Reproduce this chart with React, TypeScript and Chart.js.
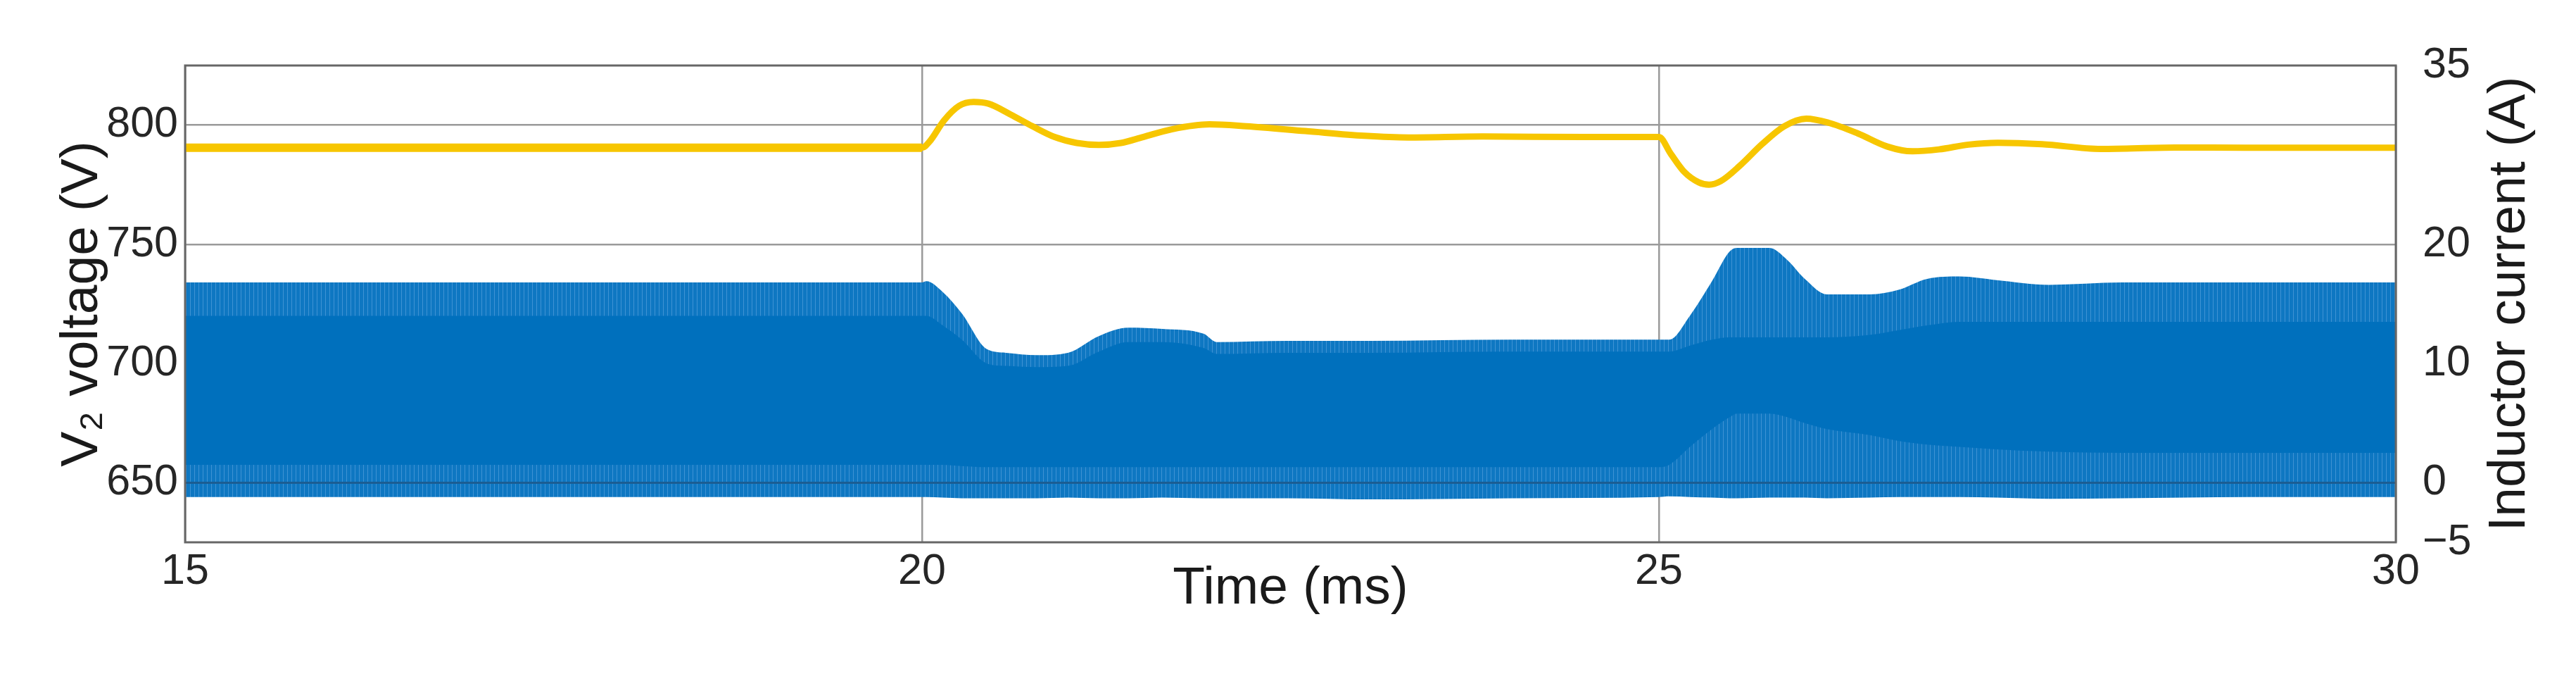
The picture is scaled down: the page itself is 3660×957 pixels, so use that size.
import React, { useEffect, useRef } from 'react';
import { Chart, registerables } from 'chart.js';

Chart.register(...registerables);

// ---------- data ----------
const timeTicks = [15, 20, 25, 30];
const voltageTicks = [650, 700, 750, 800];
const currentTicks = [-5, 0, 10, 20, 35];

// V2 voltage (V) – yellow trace
const voltageTime = [
  15, 20, 20.05, 20.15, 20.25, 20.35, 20.45, 20.6, 20.75, 20.9, 21.05, 21.2, 21.35, 21.5,
  21.7, 21.95, 22.2, 22.6, 23.0, 23.3, 23.8, 24.5, 25.0, 25.08, 25.17, 25.27, 25.34, 25.42,
  25.55, 25.7, 25.85, 26.0, 26.15, 26.35, 26.55, 26.72, 26.9, 27.1, 27.3, 27.6, 28.0, 28.5,
  29.0, 30,
];
const voltageValues = [
  790.5, 790.5, 793, 802, 808, 809.7, 809, 804.5, 799.5, 795, 792.5, 791.7, 792.5, 795,
  798.3, 800.3, 799.5, 797.5, 795.5, 794.8, 795.2, 795, 795, 788, 780.5, 776, 775, 776.5,
  783, 792, 799.5, 802.7, 801, 796.5, 791, 789, 789.8, 791.8, 792.6, 792, 790, 790.6,
  790.5, 790.5,
];

// Inductor current (A) – blue switching band, read as its envelope
const bandTime = [
  15, 20, 20.03, 20.14, 20.27, 20.44, 20.57, 20.78, 20.99, 21.2, 21.4, 21.63, 21.91, 22.0,
  22.48, 23.04, 24.0, 25.0, 25.07, 25.21, 25.36, 25.48, 25.53, 25.75, 25.87, 25.99, 26.14,
  26.43, 26.63, 26.82, 27.04, 27.29, 27.65, 28.14, 29.0, 30,
];
const bandUpper = [
  16.8, 16.8, 16.9, 16.0, 14.2, 11.2, 10.9, 10.7, 10.9, 12.3, 13.0, 12.9, 12.5, 11.8,
  11.9, 11.9, 12.0, 12.0, 12.0, 14.0, 16.9, 19.4, 19.7, 19.7, 18.7, 17.1, 15.8,
  15.8, 16.2, 17.1, 17.3, 17.0, 16.6, 16.8, 16.8, 16.8,
];
const bandLower = [
  -1.2, -1.2, -1.2, -1.25, -1.3, -1.3, -1.3, -1.3, -1.25, -1.3, -1.3, -1.25, -1.3, -1.3,
  -1.3, -1.4, -1.3, -1.2, -1.15, -1.2, -1.25, -1.3, -1.3, -1.25, -1.25, -1.25, -1.3,
  -1.25, -1.2, -1.2, -1.2, -1.25, -1.35, -1.3, -1.2, -1.2,
];
// densest (darkest) part of the band
const coreUpper = [
  14, 14, 14, 13.2, 12, 10, 9.8, 9.7, 9.8, 11, 11.8, 11.8, 11.3, 10.8,
  10.9, 10.9, 11, 11, 11, 11.5, 12, 12.2, 12.2, 12.2, 12.2, 12.2, 12.2,
  12.4, 12.8, 13.2, 13.5, 13.5, 13.5, 13.5, 13.5, 13.5,
];
const coreLower = [
  1.5, 1.5, 1.5, 1.5, 1.4, 1.3, 1.3, 1.3, 1.3, 1.3, 1.3, 1.3, 1.3, 1.3,
  1.3, 1.3, 1.3, 1.3, 1.5, 3, 4.5, 5.5, 5.8, 5.8, 5.5, 5, 4.5,
  4, 3.5, 3.2, 3, 2.8, 2.6, 2.5, 2.5, 2.5,
];
// dense clamp line at 0 A
const clampTime = [15, 30];
const clampValues = [0, 0];

const LEFT_TITLE = 'V\u2082 voltage (V)';
const RIGHT_TITLE = 'Inductor current (A)';
const X_TITLE = 'Time (ms)';

const FONT = '"Liberation Sans", Arial, Helvetica, sans-serif';
const TICK_COLOR = '#262626';
const TITLE_COLOR = '#1a1a1a';
const GRID_COLOR = '#9a9a9a';

const xy = (t: number[], v: number[]) => t.map((x, i) => ({ x, y: v[i] }));
const fmt = (v: number) => (v < 0 ? '\u2212' + Math.abs(v) : String(v));

export default function App() {
  const ref = useRef<HTMLCanvasElement | null>(null);

  useEffect(() => {
    const canvas = ref.current;
    if (!canvas) return;
    const ctx = canvas.getContext('2d')!;

    const pc = document.createElement('canvas');
    pc.width = 6;
    pc.height = 4;
    const p = pc.getContext('2d')!;
    p.fillStyle = '#0E77C2';
    p.fillRect(0, 0, 6, 4);
    p.fillStyle = '#3F93D4';
    p.fillRect(0, 0, 1, 4);
    const pattern = ctx.createPattern(pc, 'repeat');

    const framePlugin = {
      id: 'frame',
      afterDatasetsDraw(chart: any) {
        const { ctx: c, chartArea: a } = chart;
        c.save();
        c.strokeStyle = '#666666';
        c.lineWidth = 3;
        c.strokeRect(a.left, a.top, a.right - a.left, a.bottom - a.top);
        c.restore();
      },
      afterDraw(chart: any) {
        const { ctx: c, chartArea: a } = chart;
        const s = chart.scales.yR;
        c.save();
        c.translate(s.left + 162, (a.top + a.bottom) / 2);
        c.rotate(-Math.PI / 2);
        c.font = '75px ' + FONT;
        c.fillStyle = TITLE_COLOR;
        c.textAlign = 'center';
        c.textBaseline = 'middle';
        c.fillText(RIGHT_TITLE, 0, 0);
        c.restore();
      },
    };

    const noLine = 'rgba(0,0,0,0)';

    const chart = new Chart(ctx, {
      type: 'line',
      data: {
        datasets: [
          {
            label: 'V2 voltage',
            data: xy(voltageTime, voltageValues),
            yAxisID: 'y',
            borderColor: '#F7C600',
            borderWidth: 9,
            pointRadius: 0,
            cubicInterpolationMode: 'monotone',
            fill: false,
            order: 0,
            segment: {
              borderWidth: (c: any) => (c.p1.parsed.x <= 20 ? 12 : 9),
            },
          } as any,
          {
            label: 'clamp',
            data: xy(clampTime, clampValues),
            yAxisID: 'yR',
            borderColor: '#1b5d92',
            borderWidth: 3,
            pointRadius: 0,
            fill: false,
            order: 1,
          },
          {
            label: 'core upper',
            data: xy(bandTime, coreUpper),
            yAxisID: 'yR',
            borderColor: noLine,
            borderWidth: 0,
            pointRadius: 0,
            cubicInterpolationMode: 'monotone',
            fill: '+1',
            backgroundColor: '#0070BD',
            order: 2,
          },
          {
            label: 'core lower',
            data: xy(bandTime, coreLower),
            yAxisID: 'yR',
            borderColor: noLine,
            borderWidth: 0,
            pointRadius: 0,
            cubicInterpolationMode: 'monotone',
            fill: false,
            order: 2,
          },
          {
            label: 'Inductor current upper',
            data: xy(bandTime, bandUpper),
            yAxisID: 'yR',
            borderColor: noLine,
            borderWidth: 0,
            pointRadius: 0,
            cubicInterpolationMode: 'monotone',
            fill: '+1',
            backgroundColor: pattern as any,
            order: 3,
          },
          {
            label: 'Inductor current lower',
            data: xy(bandTime, bandLower),
            yAxisID: 'yR',
            borderColor: noLine,
            borderWidth: 0,
            pointRadius: 0,
            cubicInterpolationMode: 'monotone',
            fill: false,
            order: 3,
          },
        ],
      },
      options: {
        animation: false,
        responsive: false,
        devicePixelRatio: 1,
        layout: { padding: { top: 93, left: 0, right: 0, bottom: 0 } },
        plugins: {
          legend: { display: false },
          tooltip: { enabled: false },
        },
        scales: {
          x: {
            type: 'linear',
            min: 15,
            max: 30,
            afterBuildTicks: (s: any) => {
              s.ticks = timeTicks.map((v) => ({ value: v }));
            },
            afterFit: (s: any) => {
              s.height = 187;
            },
            grid: { color: GRID_COLOR, lineWidth: 2.5, drawTicks: false },
            border: { display: false },
            ticks: {
              font: { family: FONT, size: 61 },
              color: TICK_COLOR,
              padding: 6,
              maxRotation: 0,
              autoSkip: false,
              callback: (v: any) => fmt(Number(v)),
            },
            title: {
              display: true,
              text: X_TITLE,
              font: { family: FONT, size: 75 },
              color: TITLE_COLOR,
              padding: { top: 0, bottom: 76 },
            },
          },
          y: {
            type: 'linear',
            position: 'left',
            min: 625,
            max: 825,
            afterBuildTicks: (s: any) => {
              s.ticks = voltageTicks.map((v) => ({ value: v }));
            },
            afterFit: (s: any) => {
              s.width = 263;
            },
            grid: { color: GRID_COLOR, lineWidth: 2.5, drawTicks: false },
            border: { display: false },
            ticks: {
              font: { family: FONT, size: 61 },
              color: TICK_COLOR,
              padding: 10,
              callback: (v: any) => fmt(Number(v)),
            },
            title: {
              display: true,
              text: LEFT_TITLE,
              font: { family: FONT, size: 75 },
              color: TITLE_COLOR,
              padding: { top: 72, bottom: 0 },
            },
          },
          yR: {
            type: 'linear',
            position: 'right',
            min: -5,
            max: 35,
            afterBuildTicks: (s: any) => {
              s.ticks = currentTicks.map((v) => ({ value: v }));
            },
            afterFit: (s: any) => {
              s.width = 256;
            },
            grid: { display: false, drawTicks: false },
            border: { display: false },
            ticks: {
              font: { family: FONT, size: 61 },
              color: TICK_COLOR,
              padding: 38,
              callback: (v: any) => fmt(Number(v)),
            },
          },
        },
      },
      plugins: [framePlugin],
    } as any);

    return () => chart.destroy();
  }, []);

  return (
    <div style={{ position: 'fixed', left: 0, top: 0, width: 3660, height: 957, background: '#fff' }}>
      <canvas ref={ref} width={3660} height={957} style={{ display: 'block', width: 3660, height: 957 }} />
    </div>
  );
}
